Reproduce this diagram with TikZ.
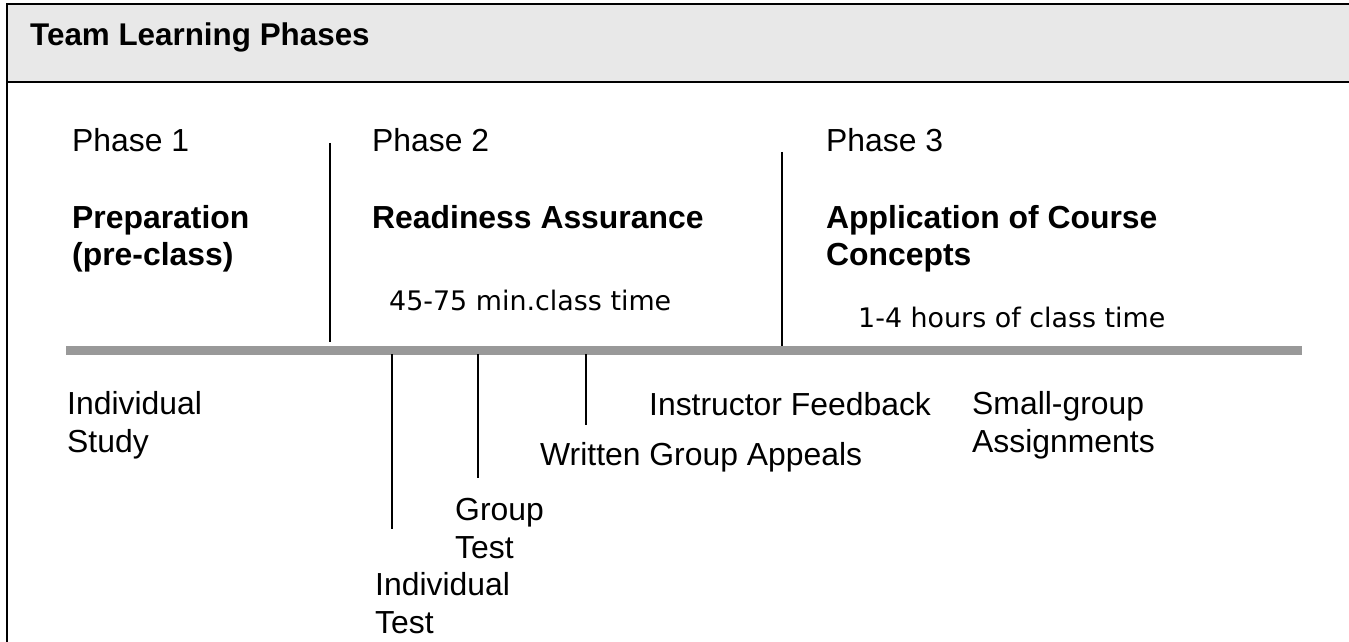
\documentclass[tikz,border=0pt]{standalone}
\usepackage{fontspec}
\setmainfont{Liberation Sans}
\newfontfamily\timefont{DejaVu Sans}
\definecolor{headfill}{HTML}{E8E8E8}
\definecolor{bargray}{HTML}{999999}
\begin{document}
\begin{tikzpicture}[x=1bp,y=-1bp,
  txt/.style={anchor=base west,inner sep=0pt,align=left,font=\fontsize{32}{37.5}\selectfont},
  boldtxt/.style={txt,font=\fontsize{32}{37.5}\selectfont\bfseries},
  timetxt/.style={anchor=base west,inner sep=0pt,font=\timefont\fontsize{27}{32}\selectfont},
  frameline/.style={line width=2.2bp,black},
  divider/.style={line width=1.8bp,black},
  tick/.style={line width=1.8bp,black},
  bar/.style={line width=9bp,bargray}]
\useasboundingbox (0,0) rectangle (1349,642);
\clip (0,0) rectangle (1349,642);
% header band and frame
\fill[headfill] (7,4) rectangle (1349,82);
\draw[frameline] (1349,4) -- (7,4) -- (7,642);
\draw[line width=2.8bp] (7,82) -- (1349,82);
\node[boldtxt,font=\fontsize{31.5}{37.5}\selectfont\bfseries] (title) at (30,46) {Team Learning Phases};
% phase headings
\node[txt] (p1) at (72,152) {Phase 1};
\node[txt] (p2) at (372,152) {Phase 2};
\node[txt] (p3) at (826,152) {Phase 3};
\node[boldtxt] (prep) at (72,265.5) {Preparation\\(pre-class)};
\node[boldtxt] (ready) at (372,228) {Readiness Assurance};
\node[boldtxt] (appl) at (826,265.5) {Application of Course\\Concepts};
\node[timetxt] (t2) at (389,310) {45-75 min.class time};
\node[timetxt] (t3) at (858,327) {1-4 hours of class time};
% time line
\coordinate (barL) at (66,350);
\coordinate (barR) at (1302,350);
\draw[bar] (barL) -- (barR);
% phase dividers
\coordinate (d1top) at (330,143);
\coordinate (d1bot) at (330,342);
\coordinate (d2top) at (782,152);
\coordinate (d2bot) at (782,346);
\draw[divider] (d1top) -- (d1bot);
\draw[divider] (d2top) -- (d2bot);
% activity labels
\node[txt] (study) at (67,452) {Individual\\Study};
\node[txt] (itest) at (375,633) {Individual\\Test};
\node[txt] (gtest) at (455,558) {Group\\Test};
\node[txt] (appeal) at (540,465) {Written Group Appeals};
\node[txt] (feed) at (649,415) {Instructor Feedback};
\node[txt] (small) at (972,452) {Small-group\\Assignments};
% ticks
\coordinate (k1a) at (392,354);
\coordinate (k1b) at (392,529);
\coordinate (k2a) at (478,354);
\coordinate (k2b) at (478,478);
\coordinate (k3a) at (586,354);
\coordinate (k3b) at (586,425);
\draw[tick] (k1a) -- (k1b);
\draw[tick] (k2a) -- (k2b);
\draw[tick] (k3a) -- (k3b);
\end{tikzpicture}
\end{document}
